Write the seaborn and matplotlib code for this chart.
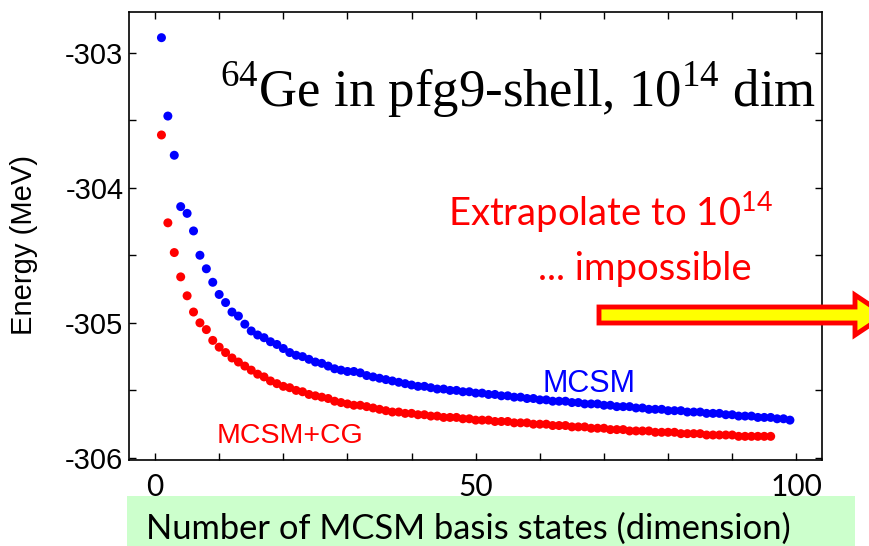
import numpy as np
import pandas as pd
import matplotlib
matplotlib.use('Agg')
import matplotlib.pyplot as plt
import seaborn as sns
from matplotlib.patches import Rectangle, FancyArrow
from matplotlib.ticker import MultipleLocator

# -- data --
mcsm = [
    -302.89, -303.47, -303.76, -304.14, -304.19, -304.32, -304.50, -304.60, -304.70, -304.79,
    -304.85, -304.92, -304.95, -305.01, -305.06, -305.09, -305.11, -305.14, -305.16, -305.19,
    -305.22, -305.24, -305.25, -305.27, -305.29, -305.30, -305.32, -305.34, -305.35, -305.36,
    -305.36, -305.37, -305.39, -305.40, -305.41, -305.42, -305.43, -305.44, -305.45, -305.46,
    -305.47, -305.47, -305.48, -305.49, -305.49, -305.50, -305.50, -305.51, -305.51, -305.52,
    -305.52, -305.53, -305.53, -305.54, -305.54, -305.55, -305.55, -305.56, -305.56, -305.57,
    -305.57, -305.58, -305.58, -305.58, -305.59, -305.59, -305.60, -305.60, -305.60, -305.61,
    -305.61, -305.62, -305.62, -305.62, -305.63, -305.63, -305.64, -305.64, -305.64, -305.65,
    -305.65, -305.65, -305.66, -305.66, -305.66, -305.67, -305.67, -305.67, -305.68, -305.68,
    -305.69, -305.69, -305.69, -305.70, -305.70, -305.70, -305.71, -305.71, -305.72,
]
mcsm_cg = [
    -303.61, -304.26, -304.48, -304.66, -304.80, -304.92, -305.00, -305.05, -305.13, -305.18,
    -305.22, -305.26, -305.29, -305.32, -305.35, -305.38, -305.40, -305.43, -305.45, -305.47,
    -305.48, -305.50, -305.51, -305.53, -305.54, -305.55, -305.56, -305.58, -305.59, -305.60,
    -305.61, -305.61, -305.62, -305.63, -305.64, -305.65, -305.66, -305.66, -305.67, -305.67,
    -305.68, -305.68, -305.69, -305.69, -305.70, -305.70, -305.70, -305.71, -305.71, -305.72,
    -305.72, -305.72, -305.73, -305.73, -305.73, -305.74, -305.74, -305.74, -305.75, -305.75,
    -305.75, -305.76, -305.76, -305.76, -305.77, -305.77, -305.77, -305.78, -305.78, -305.78,
    -305.79, -305.79, -305.79, -305.80, -305.80, -305.80, -305.80, -305.81, -305.81, -305.81,
    -305.81, -305.82, -305.82, -305.82, -305.82, -305.83, -305.83, -305.83, -305.83, -305.83,
    -305.84, -305.84, -305.84, -305.84, -305.84, -305.84,
]
series_names = ['MCSM', 'MCSM+CG']
series_colors = ['#0000ff', '#ff0000']
x_ticks = [0, 50, 100]
y_ticks = [-306, -305, -304, -303]

df = pd.concat([
    pd.DataFrame({'dim': np.arange(1, len(mcsm) + 1), 'energy': mcsm, 'method': series_names[0]}),
    pd.DataFrame({'dim': np.arange(1, len(mcsm_cg) + 1), 'energy': mcsm_cg, 'method': series_names[1]}),
])

sns.set_style('ticks')
plt.rcParams['font.family'] = ['Liberation Sans', 'DejaVu Sans']
plt.rcParams['axes.unicode_minus'] = False
plt.rcParams['text.color'] = 'black'
plt.rcParams['axes.labelcolor'] = 'black'
plt.rcParams['xtick.color'] = 'black'
plt.rcParams['ytick.color'] = 'black'
plt.rcParams['mathtext.fontset'] = 'custom'
plt.rcParams['mathtext.rm'] = 'Liberation Serif'
plt.rcParams['mathtext.sf'] = 'Lato'

fig = plt.figure(figsize=(8.7, 5.46), dpi=100)
ax = fig.add_axes([129 / 870, 1 - 460 / 546, (822 - 129) / 870, (460 - 12) / 546])

sns.scatterplot(data=df, x='dim', y='energy', hue='method', hue_order=series_names,
                palette=dict(zip(series_names, series_colors)), s=42, linewidth=0,
                legend=False, ax=ax, zorder=3)

ax.set_xlim(-4.06, 104.0)
ax.set_ylim(-306.015, -302.70)
ax.set_xticks(x_ticks)
ax.set_yticks(y_ticks)
ax.xaxis.set_minor_locator(MultipleLocator(10))
ax.yaxis.set_minor_locator(MultipleLocator(0.5))
ax.tick_params(which='both', direction='in', top=True, right=True, length=5, width=1, color='black')
ax.tick_params(axis='y', labelsize=21, pad=4)
ax.tick_params(axis='x', labelsize=21.5, pad=9)
for lab in ax.get_xticklabels():
    lab.set_fontfamily('Lato')
for sp in ax.spines.values():
    sp.set_linewidth(1.2)
    sp.set_color('black')
ax.set_xlabel('')
ax.set_ylabel('Energy (MeV)', fontsize=21)
ax.yaxis.set_label_coords(-0.131, 0.48)

# title inside the plot
ax.text(0.992, 0.788, r'$^{64}$Ge in pfg9-shell, 10$^{14}$ dim', transform=ax.transAxes,
        ha='right', va='baseline', fontsize=38, family='Liberation Serif')

# annotations
ax.text(0.929, 0.520, r'Extrapolate to 10$^{\mathsf{14}}$', transform=ax.transAxes,
        ha='right', va='baseline', fontsize=27.5, family='Lato', color='#ff0000')
ax.text(0.899, 0.402, '... impossible', transform=ax.transAxes,
        ha='right', va='baseline', fontsize=27.5, family='Lato', color='#ff0000')
ax.text(67.7, -305.51, 'MCSM', ha='center', va='baseline', fontsize=22, color='#0000ff')
ax.text(21.0, -305.89, 'MCSM+CG', ha='center', va='baseline', fontsize=20.5, color='#ff0000')

# green label box under the axis
fig.patches.append(Rectangle((127 / 870, 0), (855 - 127) / 870, 50 / 546,
                             transform=fig.transFigure, facecolor='#ccffcc', edgecolor='none', zorder=0))
fig.text(146 / 870, 7 / 546, 'Number of MCSM basis states (dimension)', ha='left', va='baseline',
         fontsize=24.8, family='Lato', color='black')

# big arrow to the right
arrow = FancyArrow(599 / 870, 1 - 315 / 546, (885 - 599) / 870, 0, width=16 / 546,
                   head_width=40 / 546, head_length=30 / 870, length_includes_head=True,
                   transform=fig.transFigure, facecolor='#ffff00', edgecolor='#ff0000',
                   linewidth=3.5, zorder=5)
fig.patches.append(arrow)

plt.savefig('out.png', dpi=100)
